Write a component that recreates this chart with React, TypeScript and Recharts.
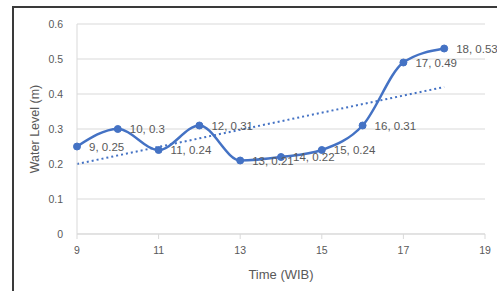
import { ComposedChart, Line, XAxis, YAxis, CartesianGrid } from 'recharts';

// Sample data
const hours = [9, 10, 11, 12, 13, 14, 15, 16, 17, 18];
const waterLevel = [0.25, 0.3, 0.24, 0.31, 0.21, 0.22, 0.24, 0.31, 0.49, 0.53];

// dotted trend line ends
const trendHours = [9, 18];
const trendLevel = [0.2, 0.42];

const xTicks = [9, 11, 13, 15, 17, 19];
const yTicks = [0, 0.1, 0.2, 0.3, 0.4, 0.5, 0.6];

const data = hours.map((h, i) => ({ time: h, level: waterLevel[i] }));
const trend = trendHours.map((h, i) => ({ time: h, level: trendLevel[i] }));

const blue = '#4472C4';
const grey = '#595959';
const font = '"Liberation Sans", Arial, sans-serif';

const renderPointLabel = (props: any) => {
  const { x, y, index } = props;
  const d = data[index];
  return (
    <text
      x={x + 12}
      y={y}
      dy="0.35em"
      fill={grey}
      fontSize={11.5}
      fontFamily={font}
      textAnchor="start"
    >
      {`${d.time}, ${d.level}`}
    </text>
  );
};

function App() {
  return (
    <div style={{ position: 'absolute', left: 0, top: 0, width: 497, height: 291, background: '#fff', overflow: 'hidden' }}>
      <div
        style={{
          position: 'absolute',
          left: 12,
          top: 6,
          width: 500,
          height: 300,
          borderTop: '2px solid #3a3a3a',
          borderLeft: '2px solid #3a3a3a',
        }}
      />
      <ComposedChart
        width={497}
        height={291}
        margin={{ top: 24, right: 12, bottom: 27, left: 37 }}
        style={{ position: 'absolute', left: 0, top: 0, fontFamily: font }}
      >
        <CartesianGrid vertical={false} stroke="#d9d9d9" />
        <XAxis
          dataKey="time"
          type="number"
          domain={[9, 19]}
          ticks={xTicks}
          allowDuplicatedCategory={false}
          height={30}
          stroke="#d9d9d9"
          tickSize={5}
          tickMargin={8}
          tick={{ fill: grey, fontSize: 10.5 }}
          label={{ value: 'Time (WIB)', position: 'bottom', offset: 6, fill: grey, fontSize: 13 }}
        />
        <YAxis
          type="number"
          domain={[0, 0.6]}
          ticks={yTicks}
          width={40}
          stroke="#d9d9d9"
          tickLine={false}
          tickSize={0}
          tickMargin={14}
          tick={{ fill: grey, fontSize: 10.5 }}
          label={{
            value: 'Water Level  (m)',
            angle: -90,
            position: 'insideLeft',
            offset: 0,
            dx: -2,
            fill: grey,
            fontSize: 12.5,
            style: { textAnchor: 'middle' },
          }}
        />
        <Line
          data={trend}
          dataKey="level"
          type="linear"
          stroke={blue}
          strokeWidth={2}
          strokeDasharray="2 3"
          dot={false}
          isAnimationActive={false}
        />
        <Line
          data={data}
          dataKey="level"
          type="monotone"
          stroke={blue}
          strokeWidth={2.5}
          dot={{ r: 3.5, fill: blue, stroke: blue, strokeWidth: 1 }}
          label={renderPointLabel}
          isAnimationActive={false}
        />
      </ComposedChart>
    </div>
  );
}

export default App;
